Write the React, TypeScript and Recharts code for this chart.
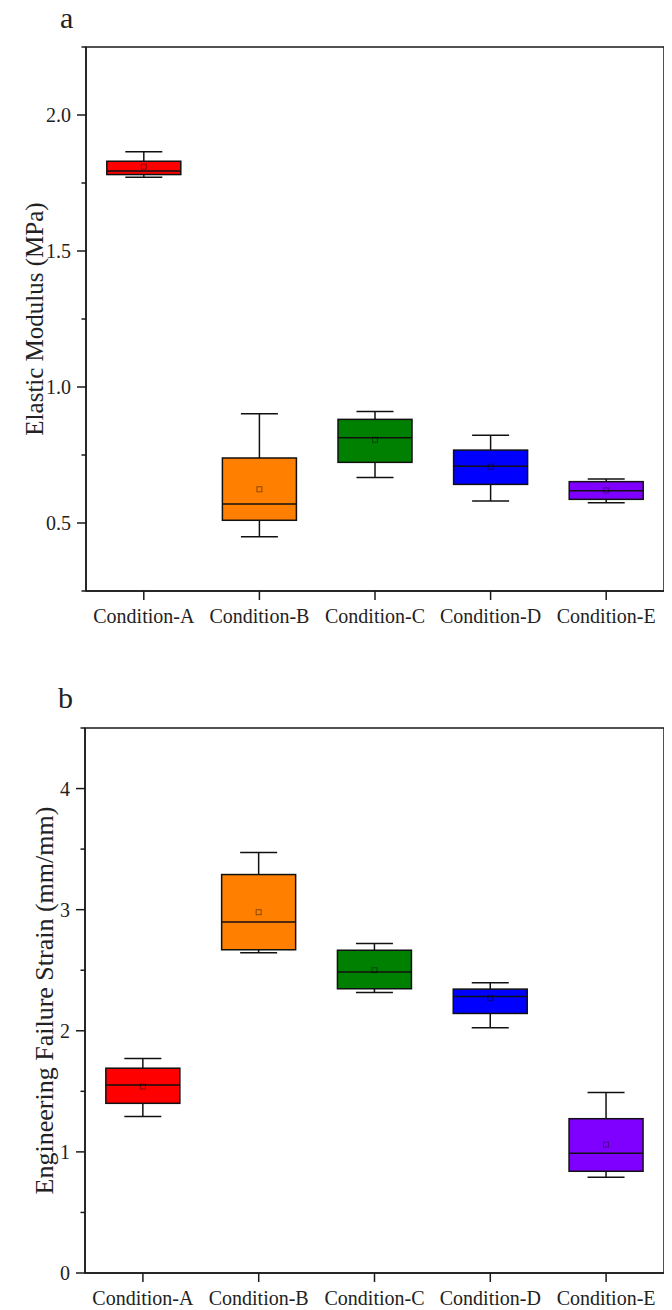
import React from 'react';
import { ComposedChart, Bar, XAxis, YAxis, ReferenceArea } from 'recharts';

// ---------- data ----------
const categories = ['Condition-A', 'Condition-B', 'Condition-C', 'Condition-D', 'Condition-E'];
const boxColors = ['#FF0000', '#FF8000', '#008000', '#0000FF', '#8000FF'];

// (a) Elastic Modulus (MPa)
const modMin = [1.771, 0.449, 0.667, 0.581, 0.574];
const modQ1 = [1.781, 0.51, 0.723, 0.642, 0.587];
const modMedian = [1.794, 0.57, 0.813, 0.709, 0.619];
const modQ3 = [1.83, 0.739, 0.881, 0.768, 0.652];
const modMax = [1.865, 0.902, 0.91, 0.823, 0.662];
const modMean = [1.81, 0.624, 0.806, 0.707, 0.62];
const modTicks = [0.25, 0.5, 0.75, 1.0, 1.25, 1.5, 1.75, 2.0, 2.25];
const modMajor = [0.5, 1.0, 1.5, 2.0];
const modDomain = [0.25, 2.25];

// (b) Engineering Failure Strain (mm/mm)
const strMin = [1.292, 2.644, 2.316, 2.026, 0.791];
const strQ1 = [1.401, 2.669, 2.347, 2.143, 0.84];
const strMedian = [1.553, 2.898, 2.485, 2.284, 0.988];
const strQ3 = [1.691, 3.29, 2.665, 2.344, 1.274];
const strMax = [1.772, 3.473, 2.721, 2.397, 1.49];
const strMean = [1.54, 2.979, 2.5, 2.27, 1.06];
const strTicks = [0, 0.5, 1, 1.5, 2, 2.5, 3, 3.5, 4, 4.5];
const strMajor = [0, 1, 2, 3, 4];
const strDomain = [0, 4.5];

const FONT = '"Liberation Serif", "Times New Roman", Times, serif';
const AXIS = '#1a1a1a';
const TEXT = '#222';

function buildRows(mn: number[], q1: number[], md: number[], q3: number[], mx: number[], mean: number[]) {
  return categories.map((name, i) => ({
    name,
    range: [mn[i], mx[i]],
    min: mn[i],
    q1: q1[i],
    median: md[i],
    q3: q3[i],
    max: mx[i],
    mean: mean[i],
    color: boxColors[i],
  }));
}

const modRows = buildRows(modMin, modQ1, modMedian, modQ3, modMax, modMean);
const strRows = buildRows(strMin, strQ1, strMedian, strQ3, strMax, strMean);

// ---------- shapes ----------
const BoxShape = (props: any) => {
  const { x, y, width, height, payload } = props;
  if (!payload || width == null) return null;
  const top = Math.min(y, y + height);
  const h = Math.abs(height);
  const { min, max, q1, median, q3, mean, color } = payload;
  const sy = (v: number) => top + ((max - v) / (max - min)) * h;
  const cx = x + width / 2;
  const capW = width * 0.5;
  const sw = 1.5;
  const st = '#111';
  return (
    <g>
      <line x1={cx} x2={cx} y1={sy(max)} y2={sy(q3)} stroke={st} strokeWidth={sw} />
      <line x1={cx} x2={cx} y1={sy(q1)} y2={sy(min)} stroke={st} strokeWidth={sw} />
      <line x1={cx - capW / 2} x2={cx + capW / 2} y1={sy(max)} y2={sy(max)} stroke={st} strokeWidth={sw} />
      <line x1={cx - capW / 2} x2={cx + capW / 2} y1={sy(min)} y2={sy(min)} stroke={st} strokeWidth={sw} />
      <rect x={x} y={sy(q3)} width={width} height={sy(q1) - sy(q3)} fill={color} stroke={st} strokeWidth={sw} />
      <line x1={x} x2={x + width} y1={sy(median)} y2={sy(median)} stroke={st} strokeWidth={sw} />
      <rect x={cx - 2.5} y={sy(mean) - 2.5} width={5} height={5} fill="none" stroke="rgba(0,0,0,0.45)" strokeWidth={1} />
    </g>
  );
};

const makeYTick = (majors: number[], fmt: (v: number) => string) => (props: any) => {
  const { x, y, payload } = props;
  const v = payload.value;
  const isMajor = majors.some((m) => Math.abs(m - v) < 1e-6);
  return (
    <g>
      <line x1={x - (isMajor ? 9 : 4.5)} x2={x} y1={y} y2={y} stroke={AXIS} strokeWidth={1.5} />
      {isMajor && (
        <text x={x - 15} y={y} textAnchor="end" dominantBaseline="central" fontSize={20} fontFamily={FONT} fill={TEXT}>
          {fmt(v)}
        </text>
      )}
    </g>
  );
};

const makeTitle = (text: string, dxCenter: number, size: number) => (p: any) => {
  const vb = p.viewBox || {};
  const cx = (vb.x || 0) + dxCenter;
  const cy = (vb.y || 0) + (vb.height || 0) / 2;
  return (
    <text
      x={cx}
      y={cy}
      transform={`rotate(-90 ${cx} ${cy})`}
      textAnchor="middle"
      dominantBaseline="central"
      fontSize={size}
      fontFamily={FONT}
      fill={TEXT}
    >
      {text}
    </text>
  );
};

type PanelProps = {
  rows: any[];
  width: number;
  height: number;
  margin: { top: number; right: number; bottom: number; left: number };
  yWidth: number;
  xHeight: number;
  domain: number[];
  ticks: number[];
  majors: number[];
  fmt: (v: number) => string;
  title: string;
  titleX: number;
  titleSize: number;
};

const Panel = ({ rows, width, height, margin, yWidth, xHeight, domain, ticks, majors, fmt, title, titleX, titleSize }: PanelProps) => (
  <ComposedChart width={width} height={height} data={rows} margin={margin} barCategoryGap="18%">
    <XAxis
      dataKey="name"
      type="category"
      interval={0}
      height={xHeight}
      tickSize={9}
      tickMargin={9}
      axisLine={{ stroke: AXIS, strokeWidth: 1.5 }}
      tickLine={{ stroke: AXIS, strokeWidth: 1.5 }}
      tick={{ fontSize: 20, fontFamily: FONT, fill: TEXT }}
    />
    <YAxis
      type="number"
      domain={domain}
      ticks={ticks}
      interval={0}
      width={yWidth}
      tickSize={0}
      tickMargin={0}
      tickLine={false}
      axisLine={{ stroke: AXIS, strokeWidth: 1.5 }}
      tick={makeYTick(majors, fmt)}
      allowDataOverflow
      label={{ content: makeTitle(title, titleX, titleSize) }}
    />
    <ReferenceArea y1={domain[0]} y2={domain[1]} fill="none" fillOpacity={0} stroke={AXIS} strokeWidth={1.5} ifOverflow="visible" />
    <Bar dataKey="range" isAnimationActive={false} shape={BoxShape} activeBar={false} />
  </ComposedChart>
);

export default function App() {
  return (
    <div style={{ position: 'relative', width: 664, height: 1302, fontFamily: FONT }}>
      <div style={{ position: 'absolute', left: 0, top: 0 }}>
        <Panel
          rows={modRows}
          width={664}
          height={640}
          margin={{ top: 39, right: 8, bottom: 17, left: 0 }}
          yWidth={78}
          xHeight={40}
          domain={modDomain}
          ticks={modTicks}
          majors={modMajor}
          fmt={(v) => v.toFixed(1)}
          title="Elastic Modulus (MPa)"
          titleX={26}
          titleSize={25}
        />
      </div>
      <div style={{ position: 'absolute', left: 0, top: 640 }}>
        <Panel
          rows={strRows}
          width={664}
          height={662}
          margin={{ top: 80, right: 8, bottom: 8, left: 0 }}
          yWidth={77}
          xHeight={29}
          domain={strDomain}
          ticks={strTicks}
          majors={strMajor}
          fmt={(v) => String(v)}
          title="Engineering Failure Strain (mm/mm)"
          titleX={36}
          titleSize={26}
        />
      </div>
      <svg width={664} height={1310} style={{ position: 'absolute', left: 0, top: -8, pointerEvents: 'none' }}>
        <text x={52} y={28} fontSize={30} fontFamily={FONT} fill={TEXT}>a</text>
        <text x={50} y={708} fontSize={30} fontFamily={FONT} fill={TEXT}>b</text>
      </svg>
    </div>
  );
}
